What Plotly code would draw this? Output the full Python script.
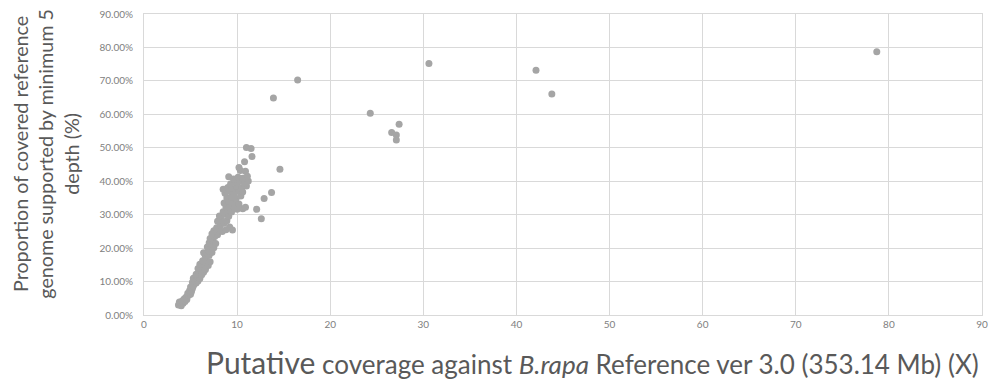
import plotly.graph_objects as go

# Putative coverage (X) per sample
coverage = [
    3.7, 3.9, 4.0, 4.2, 3.8, 4.1, 4.4, 4.3, 4.5, 4.6, 4.8, 4.7, 5.0, 4.9, 5.1, 5.2, 5.0, 5.3, 5.4, 5.2,
    5.6, 5.5, 5.8, 5.3, 5.7, 6.0, 5.6, 5.9, 6.2, 6.4, 6.1, 5.8, 6.3, 6.6, 6.0, 6.5, 6.9, 6.3, 6.7, 7.1,
    6.6, 7.0, 6.4, 6.9, 7.3, 6.8, 7.2, 7.5, 7.0, 7.4, 7.7, 7.1, 7.6, 7.3, 7.9, 7.5, 8.0, 8.4, 7.8, 8.8,
    9.5, 9.2, 8.2, 8.6, 7.9, 8.3, 8.9, 8.1, 8.7, 9.1, 8.5, 9.0, 9.4, 10.0, 10.6, 10.9, 8.8, 9.3, 9.7, 8.6,
    9.1, 9.6, 10.2, 8.9, 9.4, 9.9, 10.4, 8.7, 9.2, 9.7, 10.1, 10.6, 8.5, 9.0, 9.5, 10.0, 10.5, 11.0, 9.3, 9.8,
    10.3, 10.8, 11.2, 9.6, 10.1, 10.6, 11.1, 9.1, 10.35, 10.9, 10.2, 10.8, 11.6, 11.0, 11.5,
    12.1, 12.6, 12.9, 13.7, 14.6, 13.9, 16.5, 24.3, 26.6, 27.1, 27.1, 27.4, 30.6, 42.1, 43.8, 78.7,
]

# Proportion of covered reference supported by >= 5 depth (%)
proportion = [
    3.0, 3.3, 2.8, 3.5, 3.9, 4.2, 4.0, 4.8, 5.3, 4.6, 5.9, 6.5, 6.2, 7.3, 7.0, 7.9, 8.4, 8.7, 9.3, 9.8,
    9.6, 10.4, 10.2, 11.0, 11.4, 10.9, 12.2, 12.6, 12.0, 12.8, 13.4, 13.9, 14.3, 13.6, 15.2, 15.4, 14.8, 16.2, 16.5, 15.9,
    17.6, 17.9, 18.6, 19.2, 18.7, 20.3, 20.8, 20.1, 21.6, 22.2, 21.4, 22.9, 23.5, 24.3, 24.0, 25.2, 25.6, 25.0, 26.1, 25.5,
    25.4, 26.3, 26.8, 27.4, 28.0, 28.7, 28.2, 29.6, 30.1, 29.5, 30.9, 31.4, 30.8, 31.6, 31.8, 32.2, 32.3, 32.8, 32.1, 33.5,
    34.0, 33.7, 33.2, 35.0, 35.3, 34.8, 35.6, 36.4, 36.9, 36.3, 37.1, 36.8, 37.6, 38.1, 37.8, 38.4, 38.0, 38.6, 39.2, 39.6,
    39.9, 39.3, 40.1, 40.7, 41.2, 40.9, 41.5, 41.3, 43.2, 43.0, 44.1, 45.8, 47.4, 50.1, 49.8,
    31.6, 28.8, 34.8, 36.6, 43.6, 64.9, 70.3, 60.3, 54.6, 53.8, 52.3, 57.0, 75.2, 73.2, 66.1, 78.7,
]

x_ticks = [0, 10, 20, 30, 40, 50, 60, 70, 80, 90]
y_ticks = [0, 10, 20, 30, 40, 50, 60, 70, 80, 90]
y_tick_text = [f"{v:.2f}%" for v in y_ticks]

FONT = "Lato, 'Open Sans', sans-serif"
GRID = "#D9D9D9"
TICK_TEXT = "#808080"
TITLE_TEXT = "#595959"

fig = go.Figure(
    go.Scatter(
        x=coverage,
        y=proportion,
        mode="markers",
        marker=dict(size=7, color="#A5A5A5", line=dict(width=0)),
        hoverinfo="x+y",
    )
)

fig.update_layout(
    width=995,
    height=379,
    margin=dict(l=144, r=7, t=13, b=64),
    paper_bgcolor="white",
    plot_bgcolor="white",
    showlegend=False,
    font=dict(family=FONT, color=TITLE_TEXT),
)

fig.update_xaxes(
    range=[0, 90],
    tickvals=x_ticks,
    ticktext=[str(v) for v in x_ticks],
    showgrid=True,
    gridcolor=GRID,
    gridwidth=1,
    zeroline=False,
    showline=True,
    linecolor=GRID,
    mirror=True,
    ticks="",
    tickfont=dict(size=10, color=TICK_TEXT),
)

fig.update_yaxes(
    range=[0, 90],
    tickvals=y_ticks,
    ticktext=y_tick_text,
    showgrid=True,
    gridcolor=GRID,
    gridwidth=1,
    zeroline=False,
    showline=True,
    linecolor=GRID,
    mirror=True,
    ticks="",
    ticklabelstandoff=8,
    tickfont=dict(size=10, color=TICK_TEXT),
)

# Axis titles
fig.add_annotation(
    text="Proportion of covered reference<br>genome supported by minimum 5<br>depth (%)",
    xref="paper", yref="paper",
    x=-99 / 844, y=0.535,
    xanchor="center", yanchor="middle",
    textangle=-90,
    showarrow=False,
    font=dict(family=FONT, size=19.7, color=TITLE_TEXT),
)

fig.add_annotation(
    text="<span style='font-size:30px'>Putative</span> coverage against <i>B.rapa</i> Reference ver 3.0 (353.14 Mb) (X)",
    xref="paper", yref="paper",
    x=(596 - 144) / 844, y=-47 / 302,
    xanchor="center", yanchor="middle",
    showarrow=False,
    font=dict(family=FONT, size=26, color=TITLE_TEXT),
)

fig.write_html("out.html")
